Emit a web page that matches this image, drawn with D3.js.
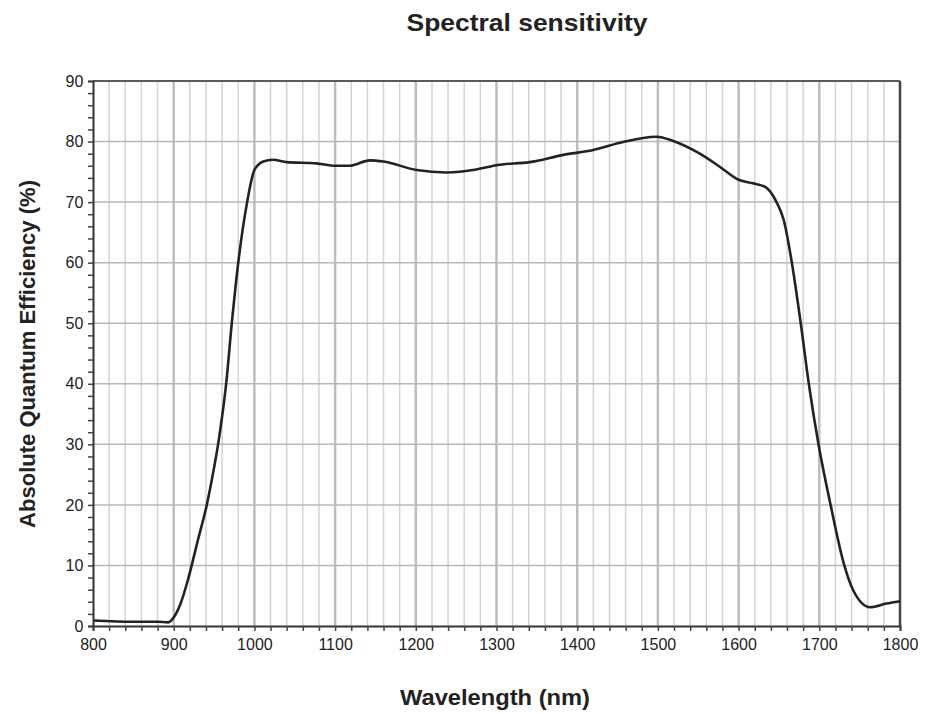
<!DOCTYPE html>
<html>
<head>
<meta charset="utf-8">
<script src="https://cdn.jsdelivr.net/npm/d3@7"></script>
<style>
  body { margin: 0; background: #fff; }
  text { font-family: Arial, 'Liberation Sans', sans-serif; }
</style>
</head>
<body>
<div id="chart"></div>
<script>
// wavelength (nm) and absolute quantum efficiency (%)
var wavelengths = [800, 850, 880, 893, 901, 908, 918, 930, 941, 948, 955, 960, 965, 972, 980, 991, 1000, 1011, 1023, 1040, 1077, 1100, 1118, 1143, 1160, 1201, 1238, 1275, 1300, 1341, 1383, 1420, 1453, 1498, 1519, 1552, 1577, 1600, 1618, 1633, 1647, 1656, 1666, 1677, 1687, 1699, 1714, 1731, 1742, 1763, 1783, 1800]
var efficiency = [0.9, 0.7, 0.7, 0.6, 1.6, 3.5, 7.8, 14.2, 20, 24.7, 30, 34.6, 40, 50, 60, 70, 75.3, 76.7, 77.0, 76.6, 76.4, 76.0, 76.0, 76.9, 76.7, 75.3, 74.9, 75.4, 76.1, 76.6, 77.8, 78.6, 79.8, 80.8, 80.1, 78.0, 75.8, 73.7, 73.1, 72.5, 70, 67.0, 60, 50, 40, 30, 20, 10, 5.9, 3.1, 3.7, 4.1]

var xTicks = [800, 900, 1000, 1100, 1200, 1300, 1400, 1500, 1600, 1700, 1800]
var yTicks = [0, 10, 20, 30, 40, 50, 60, 70, 80, 90]

var margin = { top: 81, left: 93, right: 27, bottom: 89 }
var width = 927 - margin.left - margin.right
var height = 715 - margin.top - margin.bottom

var root = d3
  .select('#chart')
  .append('svg')
  .attr('width', 927)
  .attr('height', 715)

var svg = root
  .append('g')
  .attr('transform', `translate(${margin.left},${margin.top})`)

var xPositionScale = d3.scaleLinear().domain([800, 1800]).range([0, width])
var yPositionScale = d3.scaleLinear().domain([0, 90]).range([height, 0])

/* grid */
var minorX = d3.range(820, 1800, 20).filter(d => d % 100 !== 0)
svg
  .selectAll('.grid-minor')
  .data(minorX)
  .enter()
  .append('line')
  .attr('x1', d => xPositionScale(d))
  .attr('x2', d => xPositionScale(d))
  .attr('y1', 0)
  .attr('y2', height)
  .attr('stroke', '#d4d4d4')
  .attr('stroke-width', 1.5)

svg
  .selectAll('.grid-major')
  .data(xTicks.slice(1, -1))
  .enter()
  .append('line')
  .attr('x1', d => xPositionScale(d))
  .attr('x2', d => xPositionScale(d))
  .attr('y1', 0)
  .attr('y2', height)
  .attr('stroke', '#bdbdbd')
  .attr('stroke-width', 2.5)

svg
  .selectAll('.grid-h')
  .data(yTicks.slice(1, -1))
  .enter()
  .append('line')
  .attr('x1', 0)
  .attr('x2', width)
  .attr('y1', d => yPositionScale(d))
  .attr('y2', d => yPositionScale(d))
  .attr('stroke', '#b8b8b8')
  .attr('stroke-width', 1.5)

/* frame */
svg.append('line')
  .attr('x1', 0).attr('x2', width).attr('y1', 0).attr('y2', 0)
  .attr('stroke', '#5a5a5a').attr('stroke-width', 2)
svg.append('line')
  .attr('x1', width).attr('x2', width).attr('y1', 0).attr('y2', height)
  .attr('stroke', '#444').attr('stroke-width', 2.5)

/* curve */
var points = wavelengths.map((w, i) => [w, efficiency[i]])
var line = d3
  .line()
  .x(d => xPositionScale(d[0]))
  .y(d => yPositionScale(d[1]))
  .curve(d3.curveMonotoneX)

svg
  .append('path')
  .datum(points)
  .attr('d', line)
  .attr('fill', 'none')
  .attr('stroke', '#222')
  .attr('stroke-width', 2.6)

/* axes */
var xAxis = d3.axisBottom(xPositionScale)
  .tickValues(d3.range(800, 1801, 20))
  .tickSize(5)
  .tickFormat(d => (d % 100 === 0 ? d : ''))
svg
  .append('g')
  .attr('class', 'axis x-axis')
  .attr('transform', 'translate(0,' + height + ')')
  .call(xAxis)

var yAxis = d3.axisLeft(yPositionScale)
  .tickValues(d3.range(0, 91, 2))
  .tickSize(5)
  .tickFormat(d => (d % 10 === 0 ? d : ''))
svg
  .append('g')
  .attr('class', 'axis y-axis')
  .call(yAxis)

svg.selectAll('.axis .domain').attr('stroke', '#333').attr('stroke-width', 2)
svg.selectAll('.axis .tick line').attr('stroke', '#444').attr('stroke-width', 1.5)
svg.selectAll('.axis text')
  .attr('font-size', 16)
  .attr('fill', '#222')
  .style('font-family', 'Arial, Liberation Sans, sans-serif')
svg.selectAll('.x-axis text').attr('dy', '1em')
svg.selectAll('.y-axis text').attr('dx', '-0.1em')

/* labels */
root.append('text')
  .attr('x', 527)
  .attr('y', 31)
  .attr('text-anchor', 'middle')
  .attr('font-size', 24)
  .attr('font-weight', 'bold')
  .attr('fill', '#222')
  .attr('textLength', 241)
  .attr('lengthAdjust', 'spacingAndGlyphs')
  .text('Spectral sensitivity')

root.append('text')
  .attr('x', 495)
  .attr('y', 705)
  .attr('text-anchor', 'middle')
  .attr('font-size', 22)
  .attr('font-weight', 'bold')
  .attr('fill', '#222')
  .attr('textLength', 190)
  .attr('lengthAdjust', 'spacingAndGlyphs')
  .text('Wavelength (nm)')

root.append('text')
  .attr('transform', 'translate(35,354) rotate(-90)')
  .attr('text-anchor', 'middle')
  .attr('font-size', 22)
  .attr('font-weight', 'bold')
  .attr('fill', '#222')
  .attr('textLength', 348)
  .attr('lengthAdjust', 'spacingAndGlyphs')
  .text('Absolute Quantum Efficiency (%)')
</script>
</body>
</html>
